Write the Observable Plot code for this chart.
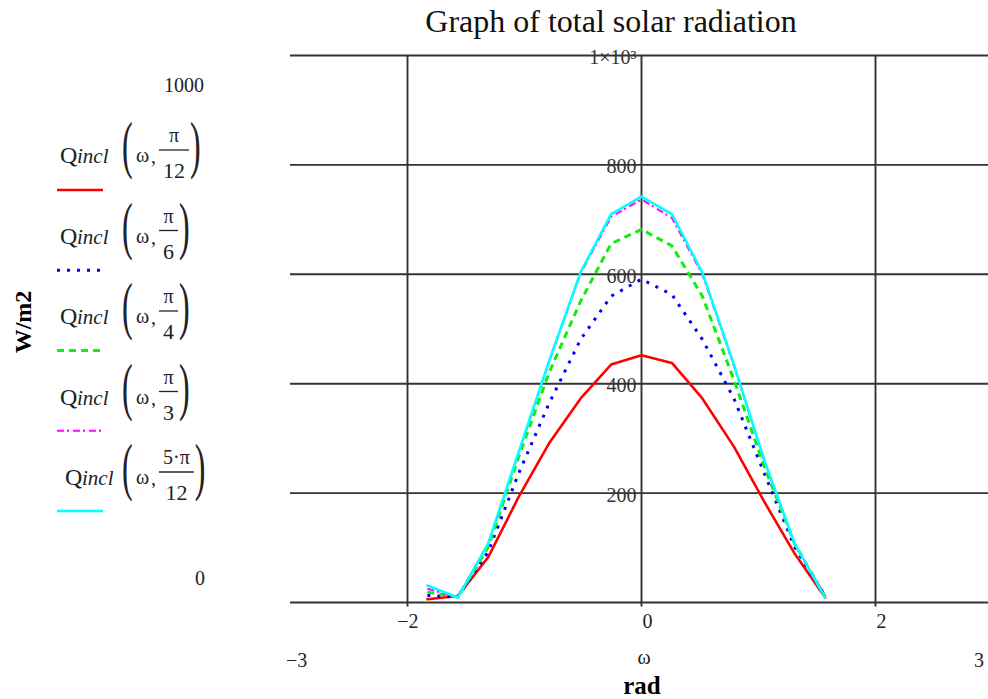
<!DOCTYPE html>
<html><head><meta charset="utf-8">
<script src="https://cdn.jsdelivr.net/npm/d3@7"></script>
<script src="https://cdn.jsdelivr.net/npm/@observablehq/plot@0.6"></script>
<style>
html,body{margin:0;padding:0;overflow:hidden;background:#fff;width:988px;height:699px;}
#wrap{position:relative;width:988px;height:699px;}
#chart,#overlay{position:absolute;left:0;top:0;}
</style></head>
<body><div id="wrap"><div id="chart"></div><svg id="overlay" width="988" height="699"></svg></div>
<script>
// ---- data ----
const omega  = [-1.83,-1.57,-1.31,-1.05,-0.79,-0.52,-0.26,0,0.26,0.52,0.79,1.05,1.31,1.57];
const qPi12  = [6,12,83,193,291,373,435,452,438,373,285,184,89,9];
const qPi6   = [13,10,93,236,364,481,560,591,563,481,373,236,101,12];
const qPi4   = [19,10,101,266,420,551,656,682,652,560,407,248,107,11];
const qPi3   = [25,10,108,273,440,602,705,737,703,600,433,258,106,12];
const q5Pi12 = [31,9,108,275,441,604,710,742,710,603,435,260,107,9];
const seriesNames  = ["π/12","π/6","π/4","π/3","5·π/12"];
const numerators   = ["π","π","π","π","5·π"];
const denominators = ["12","6","4","3","12"];
const xTicks = [-2,0,2];
const xTickLabels = ["−2","0","2"];
const yTicks = [200,400,600,800,1000];
const yTickLabels = ["200","400","600","800","1×10³"];
const yGrid = [0,200,400,600,800,1000];
const xLimits = [-3,3];
const yLimits = [0,1000];
const title = "Graph of total solar radiation";

// ---- styles ----
const styles = [
  {stroke:"#ff0000", strokeWidth:2.6},
  {stroke:"#0000ff", strokeWidth:3, strokeDasharray:"3 7", strokeLinecap:"butt"},
  {stroke:"#10ee10", strokeWidth:3, strokeDasharray:"7 5", strokeLinecap:"butt"},
  {stroke:"#ff00ff", strokeWidth:2, strokeDasharray:"7 3 2 4", strokeLinecap:"butt"},
  {stroke:"#00ffff", strokeWidth:2.6}
];
const serif = "'Liberation Serif','Times New Roman',serif";

const allSeries = [qPi12,qPi6,qPi4,qPi3,q5Pi12];
const table = allSeries.map((vals,i)=>omega.map((w,j)=>({omega:w, q:vals[j], series:seriesNames[i]})));

const gridColor = "#333";
const chart = Plot.plot({
  width: 988, height: 699,
  marginLeft: 0, marginRight: 0, marginTop: 0, marginBottom: 0,
  x: {domain: xLimits, range: [290, 992], axis: null},
  y: {domain: yLimits, range: [602, 55], axis: null},
  style: {background: "transparent", fontFamily: serif, overflow: "visible"},
  marks: [
    Plot.ruleY(yGrid, {y: d=>d, x1: xLimits[0], x2: xLimits[1], stroke: gridColor, strokeWidth: 1.9}),
    Plot.ruleX(xTicks, {x: d=>d, y1: -8, y2: yLimits[1], stroke: gridColor, strokeWidth: 1.9}),
    ...table.map((data,i)=>Plot.line(data, {x:"omega", y:"q", ...styles[i], strokeLinejoin:"round"})),
    Plot.text(xTicks, {x: d=>d, y: yLimits[0], text: (d,i)=>xTickLabels[i], textAnchor:"end", dx: 11, dy: 19, fontSize: 20, fill: "#222"}),
    Plot.text(yTicks, {x: 0, y: d=>d, text: (d,i)=>yTickLabels[i], textAnchor:"end", dx: -5, dy: 2, fontSize: 20, fill: "#333"})
  ]
});
document.getElementById("chart").appendChild(chart);

// ---- annotations & legend ----
const ov = d3.select("#overlay").style("font-family", serif);
ov.append("text").attr("x", 611).attr("y", 32).attr("text-anchor","middle").attr("font-size", 32).attr("fill","#111").text(title);
ov.append("text").attr("x", 204).attr("y", 92).attr("text-anchor","end").attr("font-size", 20).attr("fill","#222").text(String(yLimits[1]));
ov.append("text").attr("x", 205).attr("y", 585).attr("text-anchor","end").attr("font-size", 20).attr("fill","#222").text(String(yLimits[0]));
ov.append("text").attr("x", 286).attr("y", 667).attr("font-size", 20).attr("fill","#222").text("−" + Math.abs(xLimits[0]));
ov.append("text").attr("x", 984).attr("y", 667).attr("text-anchor","end").attr("font-size", 20).attr("fill","#222").text(String(xLimits[1]));
ov.append("text").attr("x", 644).attr("y", 664).attr("text-anchor","middle").attr("font-size", 20).attr("fill","#222").text("ω");
ov.append("text").attr("x", 642).attr("y", 694).attr("text-anchor","middle").attr("font-size", 25).attr("font-weight","bold").attr("fill","#000").text("rad");
ov.append("text").attr("transform","translate(31,322) rotate(-90)").attr("text-anchor","middle").attr("font-size", 24).attr("font-weight","bold").attr("fill","#000").text("W/m2");

const legendTop = 163, legendStep = 80.5, swatchTop = 190, swatchStep = 80.25;
const legendStartX = [60,60,60,60,65];
seriesNames.forEach((name,i)=>{
  const B = legendTop + legendStep*i;
  const x0 = legendStartX[i];
  const g = ov.append("g").attr("fill","#222");
  g.append("text").attr("x",x0).attr("y",B).attr("font-size",24).text("Q");
  g.append("text").attr("x",x0+17).attr("y",B).attr("font-size",21).attr("font-style","italic").text("incl");
  const px = 122;
  g.append("text").attr("transform",`translate(${px},${B+3}) scale(0.5,1)`).attr("font-size",64).text("(");
  g.append("text").attr("x",px+14).attr("y",B-1).attr("font-size",20).text("ω");
  g.append("text").attr("x",px+29).attr("y",B).attr("font-size",20).text(",");
  const fx = px+37;
  const num = g.append("text").attr("y",B-21).attr("font-size",20).attr("text-anchor","middle").text(numerators[i]);
  const den = g.append("text").attr("y",B+15).attr("font-size",22).attr("text-anchor","middle").text(denominators[i]);
  const w = Math.max(num.node().getComputedTextLength(), den.node().getComputedTextLength()) + 8;
  num.attr("x", fx+w/2); den.attr("x", fx+w/2);
  g.append("line").attr("x1",fx).attr("x2",fx+w).attr("y1",B-13).attr("y2",B-13).attr("stroke","#222").attr("stroke-width",1.3);
  g.append("text").attr("transform",`translate(${fx+w+1},${B+3}) scale(0.5,1)`).attr("font-size",64).text(")");
  const sy = swatchTop + swatchStep*i;
  const s = styles[i];
  ov.append("line").attr("x1",57).attr("x2",103).attr("y1",sy).attr("y2",sy)
    .attr("stroke",s.stroke).attr("stroke-width",s.strokeWidth)
    .attr("stroke-dasharray",s.strokeDasharray||null).attr("stroke-linecap","butt");
});
</script>
</body></html>
